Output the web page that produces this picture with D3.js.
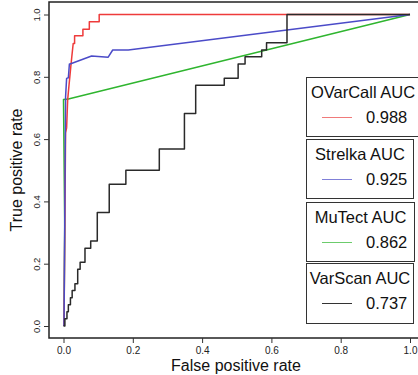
<!DOCTYPE html>
<html>
<head>
<meta charset="utf-8">
<script src="https://cdn.jsdelivr.net/npm/d3@7/dist/d3.min.js"></script>
<style>
  html, body { margin: 0; padding: 0; background: #fff; }
  svg { display: block; font-family: "Liberation Sans", Arial, sans-serif; }
</style>
</head>
<body>
<svg id="chart" width="418" height="375"></svg>
<script>
// ---- data ----
const methods = ["OVarCall", "Strelka", "MuTect", "VarScan"];
const aucLabels = ["0.988", "0.925", "0.862", "0.737"];
const tickValues = [0, 0.2, 0.4, 0.6, 0.8, 1.0];
const tickLabels = ["0.0", "0.2", "0.4", "0.6", "0.8", "1.0"];

const ovarcallFpr = [0.0015, 0.006, 0.009, 0.012, 0.016, 0.021, 0.024, 0.028, 0.032, 0.032, 0.056, 0.056, 0.0745, 0.0745, 0.103, 0.103, 1.0];
const ovarcallTpr = [0, 0.62, 0.636, 0.726, 0.774, 0.832, 0.865, 0.907, 0.907, 0.932, 0.932, 0.953, 0.953, 0.977, 0.977, 1.0, 1.0];

const strelkaFpr = [0.0015, 0.006, 0.009, 0.014, 0.017, 0.019, 0.081, 0.129, 0.142, 0.187, 1.0];
const strelkaTpr = [0, 0.736, 0.795, 0.797, 0.841, 0.841, 0.867, 0.863, 0.886, 0.886, 1.0];

const mutectFpr = [0.0015, 0.0035, 0, 0.014, 1.0];
const mutectTpr = [0, 0.32, 0.727, 0.729, 1.0];

const varscanFpr = [0, 0.004, 0.010, 0.014, 0.020, 0.025, 0.033, 0.041, 0.048, 0.062, 0.0785, 0.0975, 0.132, 0.180, 0.2765, 0.349, 0.3815, 0.464, 0.504, 0.524, 0.572, 0.586, 0.645, 1.0];
const varscanTpr = [0, 0.023, 0.046, 0.068, 0.091, 0.114, 0.136, 0.182, 0.205, 0.250, 0.273, 0.364, 0.455, 0.500, 0.568, 0.682, 0.773, 0.795, 0.841, 0.864, 0.886, 0.909, 1.0, 1.0];

const seriesColors = ["#ee3b3b", "#4b4bc8", "#2fb52f", "#2a2a2a"];
const legendColors = ["#f07a7a", "#8080d8", "#6ccc6c", "#333333"];

// ---- layout ----
const svg = d3.select("#chart");
const x = d3.scaleLinear().domain([0, 1]).range([63.5, 410]);
const y = d3.scaleLinear().domain([0, 1]).range([326, 14.5]);

const box = { left: 49, top: 2, right: 424, bottom: 338 };

// plot box
svg.append("rect")
  .attr("x", box.left).attr("y", box.top)
  .attr("width", box.right - box.left).attr("height", box.bottom - box.top)
  .attr("fill", "none").attr("stroke", "#222").attr("stroke-width", 1.5);

// x axis ticks
const xAxis = d3.axisBottom(x).tickValues(tickValues).tickFormat((d, i) => tickLabels[i]).tickSize(5).tickSizeOuter(0);
const gx = svg.append("g").attr("transform", `translate(0,${box.bottom})`).call(xAxis);
gx.select(".domain").remove();
gx.selectAll(".tick line").attr("stroke", "#333");
gx.selectAll(".tick text").attr("y", 16).attr("dy", null)
  .style("font-family", "Liberation Sans, Arial, sans-serif").style("font-size", "10px").attr("fill", "#222");

// y axis ticks
const yAxis = d3.axisLeft(y).tickValues(tickValues).tickFormat((d, i) => tickLabels[i]).tickSize(5).tickSizeOuter(0);
const gy = svg.append("g").attr("transform", `translate(${box.left},0)`).call(yAxis);
gy.select(".domain").remove();
gy.selectAll(".tick line").attr("stroke", "#333");
gy.selectAll(".tick text")
  .attr("x", null).attr("dy", null)
  .attr("text-anchor", "middle")
  .attr("transform", "translate(-9.5,0) rotate(-90)")
  .style("font-family", "Liberation Sans, Arial, sans-serif").style("font-size", "9.5px").attr("fill", "#222");

// axis titles
svg.append("text")
  .attr("x", 236).attr("y", 371)
  .attr("text-anchor", "middle")
  .style("font-size", "16px").attr("fill", "#111")
  .text("False positive rate");
svg.append("text")
  .attr("transform", "translate(22,170) rotate(-90)")
  .attr("text-anchor", "middle")
  .style("font-size", "16px").attr("fill", "#111")
  .text("True positive rate");

// curves
const lineLin = d3.line().x(d => x(d[0])).y(d => y(d[1]));
const lineStep = d3.line().x(d => x(d[0])).y(d => y(d[1])).curve(d3.curveStepAfter);
const zip = (a, b) => a.map((v, i) => [v, b[i]]);

const curves = [
  { pts: zip(mutectFpr, mutectTpr), color: seriesColors[2], gen: lineLin },
  { pts: zip(ovarcallFpr, ovarcallTpr), color: seriesColors[0], gen: lineLin },
  { pts: zip(strelkaFpr, strelkaTpr), color: seriesColors[1], gen: lineLin },
  { pts: zip(varscanFpr, varscanTpr), color: seriesColors[3], gen: lineStep }
];
const plotG = svg.append("g");
curves.forEach(c => {
  plotG.append("path")
    .attr("d", c.gen(c.pts))
    .attr("fill", "none")
    .attr("stroke", c.color)
    .attr("stroke-width", 1.5)
    .attr("stroke-linejoin", "round");
});

// legends
const legendBoxes = [
  { left: 306, top: 77, right: 419, bottom: 136 },
  { left: 306, top: 139, right: 413, bottom: 198 },
  { left: 306, top: 202, right: 414, bottom: 261 },
  { left: 306, top: 263, right: 413, bottom: 323 }
];
methods.forEach((m, i) => {
  const b = legendBoxes[i];
  const g = svg.append("g");
  g.append("rect")
    .attr("x", b.left + 0.5).attr("y", b.top + 0.5)
    .attr("width", b.right - b.left).attr("height", b.bottom - b.top)
    .attr("fill", "#fff").attr("stroke", "#333").attr("stroke-width", 1);
  g.append("text")
    .attr("x", (b.left + b.right) / 2 + 0.5).attr("y", b.top + 21)
    .attr("text-anchor", "middle")
    .style("font-size", "16.5px").attr("fill", "#111")
    .text(m + " AUC");
  const ly = b.top + 40.5;
  g.append("line")
    .attr("x1", b.left + 16).attr("x2", b.left + 46)
    .attr("y1", ly).attr("y2", ly)
    .attr("stroke", legendColors[i]).attr("stroke-width", 1);
  g.append("text")
    .attr("x", 366).attr("y", b.top + 46)
    .style("font-size", "16.5px").attr("fill", "#111")
    .text(aucLabels[i]);
});
</script>
</body>
</html>
